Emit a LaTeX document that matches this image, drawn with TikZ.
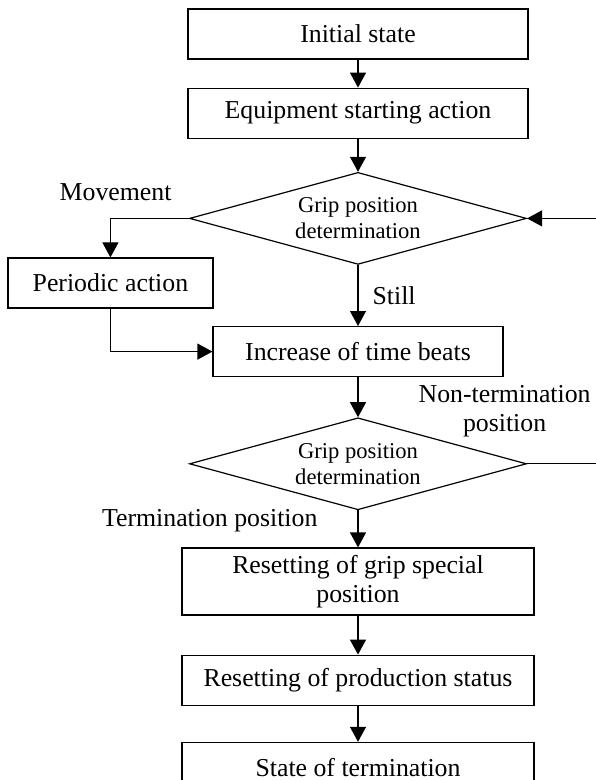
\documentclass[tikz,border=0pt]{standalone}
\usepackage{fontspec}
\setmainfont{Liberation Serif}
\usetikzlibrary{arrows.meta, positioning, shapes.geometric}

\begin{document}
\begin{tikzpicture}[
        x=0.5pt, y=-0.5pt,
        node distance=14pt,
        block/.style={rectangle, draw, line width=0.6pt, inner sep=0pt, align=center, minimum width=170pt, minimum height=25pt, font=\fontsize{12.9}{14.7}\selectfont},
        decision/.style={diamond, draw, line width=0.6pt, inner sep=0pt, aspect=3.66, minimum width=168.5pt, minimum height=46pt, align=center, font=\fontsize{11.3}{13}\selectfont},
        lbl/.style={inner sep=0pt, align=center, font=\fontsize{12.9}{14.7}\selectfont},
        arrow/.style={-{Triangle[length=7.5pt, width=8pt]}, line width=0.6pt}
    ]
        \useasboundingbox (0,0) rectangle (595,780);
        \node[block] (init) at (358,34) {Initial state};
        \node[block, below=14pt of init] (equip) {Equipment starting action};
        \node[decision, below=16.5pt of equip] (grip1) {Grip position\\determination};
        \node[block, minimum width=102.5pt, below=19.5pt of grip1.west, xshift=-39.25pt] (periodic) {Periodic action};
        \node[block, minimum width=145pt, below=30.5pt of grip1] (beats) {Increase of time beats};
        \node[decision, below=20pt of beats] (grip2) {Grip position\\determination};
        \node[block, minimum width=176pt, minimum height=33.5pt, below=18.5pt of grip2] (resetgrip) {Resetting of grip special\\position};
        \node[block, minimum width=176pt, below=19.5pt of resetgrip] (resetprod) {Resetting of production status};
        \node[block, minimum width=176pt, below=18pt of resetprod] (final) {State of termination};
        \node[lbl, left=8.5pt of grip1.west, yshift=13pt] (move) {Movement};
        \node[lbl, above=13pt of grip2.east, xshift=-11.25pt] (nonterm) {Non-termination\\position};
        \coordinate[right=37pt of grip2.east] (back);

        \draw[arrow] (init) -- (equip);
        \draw[arrow] (equip) -- (grip1);
        \draw[arrow] (grip1.west) -| (periodic);
        \draw[arrow] (periodic) |- (beats);
        \draw[arrow] (grip1) -- node[lbl, right=7pt] {Still} (beats);
        \draw[arrow] (beats) -- (grip2);
        \draw[arrow] (grip2) -- node[lbl, left=20pt, pos=0.27] {Termination position} (resetgrip);
        \draw[arrow] (grip2.east) -- (back) |- (grip1.east);
        \draw[arrow] (resetgrip) -- (resetprod);
        \draw[arrow] (resetprod) -- (final);
\end{tikzpicture}
\end{document}
